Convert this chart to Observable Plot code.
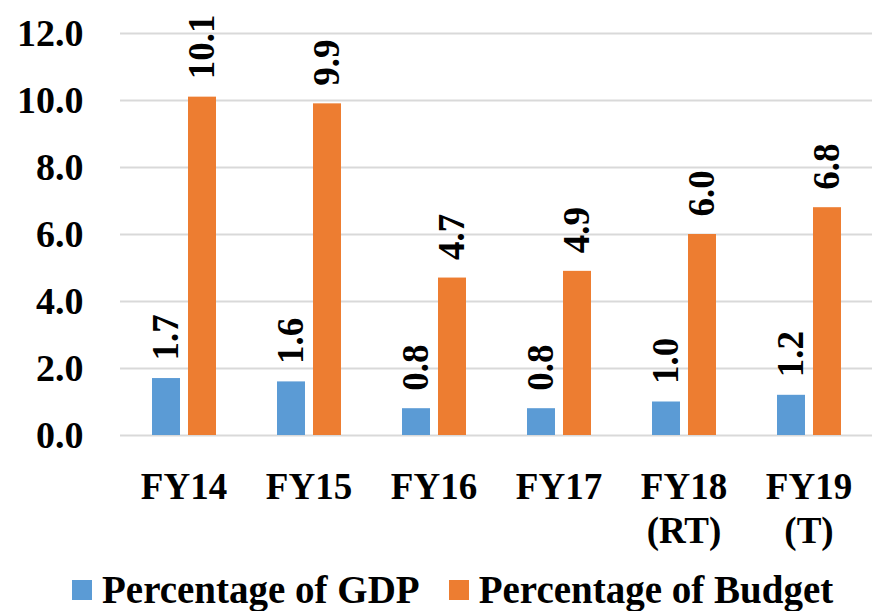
<!DOCTYPE html>
<html>
<head>
<meta charset="utf-8">
<script src="https://cdn.jsdelivr.net/npm/d3@7"></script>
<script src="https://cdn.jsdelivr.net/npm/@observablehq/plot@0.6"></script>
<style>
  html, body { margin: 0; padding: 0; background: #fff; overflow: hidden; }
  #legend { display: flex; align-items: center; padding-left: 72px; margin-top: 6px;
    font-family: "Liberation Serif", serif; font-weight: bold; font-size: 39px; line-height: 47px; color: #000; }
  .sw { width: 20px; height: 20px; margin-right: 10px; }
  .item { display: flex; align-items: center; margin-right: 29px; white-space: nowrap; }
</style>
</head>
<body>
<div id="chart"></div>
<div id="legend"></div>
<script>
const categories = ["FY14", "FY15", "FY16", "FY17", "FY18\n(RT)", "FY19\n(T)"];
const seriesNames = ["Percentage of GDP", "Percentage of Budget"];
const gdp = [1.7, 1.6, 0.8, 0.8, 1.0, 1.2];
const budget = [10.1, 9.9, 4.7, 4.9, 6.0, 6.8];
const colors = ["#5B9BD5", "#ED7D31"];
const yTicks = [0, 2, 4, 6, 8, 10, 12];

const gdpData = categories.map((c, i) => ({cat: c, value: gdp[i]}));
const budgetData = categories.map((c, i) => ({cat: c, value: budget[i]}));
const fmt = d3.format(".1f");
const font = {fontFamily: "Liberation Serif", fontWeight: "bold", fontSize: 37, fill: "#000"};

const chart = Plot.plot({
  width: 872,
  height: 560,
  marginLeft: 120,
  marginRight: 0,
  marginTop: 33,
  marginBottom: 125,
  style: {fontFamily: "Liberation Serif", fontWeight: "bold", fontSize: "37px", color: "#000", background: "#fff"},
  x: {domain: categories, padding: 0},
  y: {domain: [0, 12]},
  marks: [
    Plot.ruleY(yTicks, {stroke: "#d9d9d9", strokeWidth: 2}),
    Plot.barY(gdpData, {x: "cat", y: "value", fill: colors[0], insetLeft: 31, insetRight: 66}),
    Plot.barY(budgetData, {x: "cat", y: "value", fill: colors[1], insetLeft: 67, insetRight: 30}),
    Plot.text(gdpData, {x: "cat", y: "value", text: d => fmt(d.value), rotate: -90, textAnchor: "start", dx: -18, dy: -18, ...font}),
    Plot.text(budgetData, {x: "cat", y: "value", text: d => fmt(d.value), rotate: -90, textAnchor: "start", dx: 18, dy: -18, ...font}),
    Plot.axisY({ticks: yTicks, tickFormat: fmt, tickSize: 0, tickPadding: 37, label: null, fontSize: 38}),
    Plot.axisX({tickSize: 0, tickPadding: 32, label: null, lineHeight: 1.2, fontSize: 37})
  ]
});
document.getElementById("chart").appendChild(chart);

const legend = document.getElementById("legend");
seriesNames.forEach((name, i) => {
  const item = document.createElement("div");
  item.className = "item";
  const sw = document.createElement("div");
  sw.className = "sw";
  sw.style.background = colors[i];
  const label = document.createElement("span");
  label.textContent = name;
  item.appendChild(sw);
  item.appendChild(label);
  legend.appendChild(item);
});
</script>
</body>
</html>
